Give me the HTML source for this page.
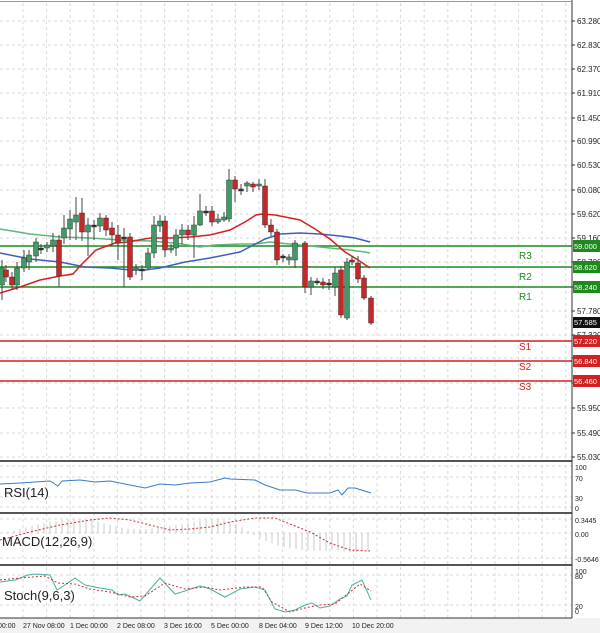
<!DOCTYPE html>
<html><head><meta charset="utf-8"><style>
html,body{margin:0;padding:0;background:#fff;}
svg{display:block;font-family:"Liberation Sans",sans-serif;}
</style></head><body>
<svg id="s" width="600" height="633" xmlns="http://www.w3.org/2000/svg">
<rect width="600" height="633" fill="#fff"/>
<rect x="0" y="618" width="600" height="15" fill="#f2f2f2"/>
<g id="grid" stroke="#d8d8d8" stroke-dasharray="3,3" stroke-width="1"></g>
<g id="lv"></g>
<g id="ma" fill="none" stroke-width="1.5"></g>
<g id="cd"></g>
<g id="ind" fill="none"></g>
<g id="ax" font-size="8" fill="#222"></g>
<g id="bx"></g>
<g stroke="#555" stroke-width="2">
<line x1="0" y1="461" x2="572" y2="461"/>
<line x1="0" y1="513" x2="572" y2="513"/>
<line x1="0" y1="565" x2="572" y2="565"/>
</g>
<line x1="572" y1="0" x2="572" y2="618" stroke="#333" stroke-width="1"/>
<line x1="0" y1="1.5" x2="572" y2="1.5" stroke="#999" stroke-width="1"/>
<line x1="0" y1="618" x2="572" y2="618" stroke="#333" stroke-width="1"/>
<text x="4" y="497" font-size="13" fill="#222">RSI(14)</text>
<text x="2" y="546" font-size="13" fill="#222">MACD(12,26,9)</text>
<text x="4" y="600" font-size="13" fill="#222">Stoch(9,6,3)</text>
</svg>
<script>
var NS="http://www.w3.org/2000/svg";
function el(p,t,a,txt){var e=document.createElementNS(NS,t);for(var k in a)e.setAttribute(k,a[k]);if(txt!==undefined)e.textContent=txt;document.getElementById(p).appendChild(e);return e;}
var py=[21,45,69,93,118,141,165,190,214,238,262,287,311,335,358,383,408,433,457];
var pl=["63.280","62.830","62.370","61.910","61.450","60.990","60.530","60.080","59.620","59.160","58.700","58.240","57.780","57.320","56.860","56.410","55.950","55.490","55.030"];
py.forEach(function(y,i){el("grid","line",{x1:0,y1:y,x2:572,y2:y});el("ax","line",{x1:572,y1:y,x2:575,y2:y,stroke:"#333"});el("ax","text",{x:577,y:y+3},pl[i]);});
for(var x=23;x<572;x+=23.6){el("grid","line",{x1:x,y1:3,x2:x,y2:618});}
[466,477,497,507,519,533,558,575,605].forEach(function(y){el("grid","line",{x1:0,y1:y,x2:572,y2:y});});
[["100",468],["70",479],["30",499],["0",509],["0.3445",521],["0.00",535],["-0.5646",560],["100",572],["80",577],["20",607],["0",612]].forEach(function(a){el("ax","text",{x:575,y:a[1]+2,"font-size":7},a[0]);});
var tl=["00:00","27 Nov 08:00","1 Dec 00:00","2 Dec 08:00","3 Dec 16:00","5 Dec 00:00","8 Dec 04:00","9 Dec 12:00","10 Dec 20:00"];
var tx=[-2,23,70,117,164,211,259,305,352];
tl.forEach(function(t,i){el("ax","text",{x:tx[i],y:628,"font-size":7},t);});
[[246,"#1e8a1e","R3","59.000"],[267,"#1e8a1e","R2","58.620"],[287,"#1e8a1e","R1","58.240"],[341,"#d42020","S1","57.220"],[361,"#d42020","S2","56.840"],[381,"#d42020","S3","56.460"]].forEach(function(l,i){
el("lv","line",{x1:0,y1:l[0],x2:572,y2:l[0],stroke:l[1],"stroke-width":1.6});
el("bx","rect",{x:573,y:l[0]-6,width:27,height:12,fill:l[1]});
el("bx","text",{x:574,y:l[0]+3,"font-size":7.5,fill:"#fff"},l[3]);
el("lv","text",{x:519,y:l[0]+(i<3?13:9),"font-size":10,fill:l[1]},l[2]);
});
el("bx","rect",{x:573,y:317,width:27,height:11,fill:"#111"});
el("bx","text",{x:574,y:325,"font-size":7.5,fill:"#fff"},"57.585");
function pl2(id,pts,c){el(id,"polyline",{points:pts.map(function(p){return p.join(",")}).join(" "),stroke:c});}
pl2("ma",[[0,229],[30,234],[60,237],[90,238],[120,240],[150,241],[175,243],[200,247],[215,245],[240,244],[255,244],[270,242],[290,244],[310,246],[330,248],[350,250],[365,252],[370,253]],"#5cb87a");
pl2("ma",[[0,253],[30,259],[60,262],[85,267],[110,268],[130,270],[145,270],[160,268],[185,262],[210,258],[240,252],[265,239],[280,234],[300,233],[320,234],[340,236],[355,238],[370,242]],"#3f5fbf");
pl2("ma",[[0,293],[20,287],[40,280],[60,276],[73,274],[80,266],[96,250],[115,243],[128,242],[150,238],[170,238],[190,237],[210,235],[230,230],[245,222],[256,215],[262,214],[275,215],[300,220],[315,229],[330,239],[345,252],[358,260],[370,268]],"#d42020");
var C=[[2,268,285,"g",260,300],[6,270,277,"r",265,282],[12,277,285,"r",272,290],[17,268,285,"g",262,290],[24,258,268,"g",250,272],[29,255,262,"g",250,270],[36,242,256,"g",238,262],[41,248,250,"k",244,254],[47,245,248,"g",242,252],[53,240,246,"g",233,252],[59,240,276,"r",235,287],[64,228,238,"g",215,244],[70,219,229,"g",210,240],[76,215,222,"g",197,240],[82,213,232,"r",198,241],[88,225,232,"g",218,256],[94,225,227,"k",220,240],[100,218,226,"g",213,232],[106,218,230,"r",215,236],[112,228,235,"r",222,246],[118,235,243,"r",225,260],[124,237,239,"k",228,287],[130,237,277,"r",233,280],[136,268,270,"g",264,275],[142,269,271,"k",265,280],[148,253,268,"g",248,270],[154,225,253,"g",216,258],[160,221,226,"g",215,232],[165,221,250,"r",216,257],[171,248,250,"g",244,253],[176,235,248,"g",229,256],[182,230,235,"g",224,244],[188,230,235,"r",225,240],[194,225,235,"g",216,258],[200,211,225,"g",194,226],[206,211,213,"k",206,216],[212,211,222,"r",206,226],[218,219,222,"g",214,224],[224,217,220,"g",212,222],[229,180,219,"g",169,222],[235,180,189,"r",176,202],[241,189,191,"k",184,195],[247,183,186,"g",181,192],[253,184,187,"r",182,192],[259,184,186,"g",179,190],[265,186,225,"r",179,228],[271,225,232,"r",219,236],[277,232,260,"r",229,265],[283,256,258,"k",254,262],[289,257,260,"g",254,265],[295,243,260,"g",240,268],[305,243,287,"r",241,293],[311,281,287,"g",277,295],[317,281,283,"k",278,285],[323,282,285,"r",278,289],[329,283,285,"k",279,290],[335,273,287,"g",267,296],[341,270,315,"r",266,318],[347,262,318,"g",258,320],[352,260,262,"r",256,265],[358,263,279,"r",256,283],[364,278,298,"r",275,300],[371,298,323,"r",296,325]];
C.forEach(function(c){var col=c[3]=="g"?"#3f9a66":c[3]=="r"?"#c42828":"#333";
el("cd","line",{x1:c[0],y1:c[4],x2:c[0],y2:c[5],stroke:"#444","stroke-width":1});
el("cd","rect",{x:c[0]-2.5,y:c[1],width:5,height:Math.max(1.5,c[2]-c[1]),fill:col,stroke:c[3]=="k"?"#333":"#222","stroke-width":0.4});});
pl2("ind",[[0,484],[20,483],[50,481],[58,486],[62,481],[80,480],[95,482],[110,481],[130,485],[145,488],[160,484],[175,485],[190,483],[210,482],[225,478],[230,479],[255,480],[265,485],[280,490],[295,490],[307,493],[330,493],[338,490],[342,495],[348,488],[355,488],[371,493]],"#3a7bc8");
for(var i=0;i<62;i++){var x=2+i*6;var v=[0.0,0.02,0.06,0.1,0.14,0.18,0.22,0.25,0.28,0.3,0.32,0.33,0.34,0.34,0.33,0.31,0.28,0.24,0.2,0.16,0.13,0.11,0.1,0.1,0.1,0.12,0.14,0.16,0.18,0.2,0.22,0.25,0.28,0.31,0.33,0.34,0.34,0.32,0.28,0.22,0.14,0.05,-0.05,-0.12,-0.2,-0.26,-0.32,-0.36,-0.38,-0.4,-0.42,-0.43,-0.44,-0.45,-0.44,-0.43,-0.45,-0.46,-0.48,-0.48,-0.47,-0.46][i];
el("ind","line",{x1:x,y1:533,x2:x,y2:533-v*40,stroke:"#c8c8c8","stroke-width":1});}
el("ind","polyline",{points:"0,540 30,532 60,525 90,520 110,518 130,520 150,525 170,530 190,529 210,527 230,522 255,518 275,518 290,524 310,532 330,543 350,550 370,551",stroke:"#c83030","stroke-dasharray":"2,2"});
pl2("ind",[[0,582],[15,580],[28,575],[35,574],[50,575],[57,590],[62,587],[75,578],[85,585],[100,588],[112,590],[118,595],[125,594],[140,601],[160,578],[175,594],[185,591],[200,586],[210,589],[225,597],[240,589],[255,587],[265,590],[275,609],[285,612],[295,610],[305,605],[312,603],[320,608],[330,606],[340,599],[347,596],[352,585],[362,580],[371,600]],"#4ab0a0");
el("ind","polyline",{points:"0,580 20,578 45,576 58,583 75,584 90,589 110,592 130,597 145,596 165,583 185,589 205,587 220,590 245,587 262,587 272,602 290,612 305,608 320,605 335,604 350,592 360,584 371,591",stroke:"#c83030","stroke-dasharray":"2,2"});
</script>
</body></html>
